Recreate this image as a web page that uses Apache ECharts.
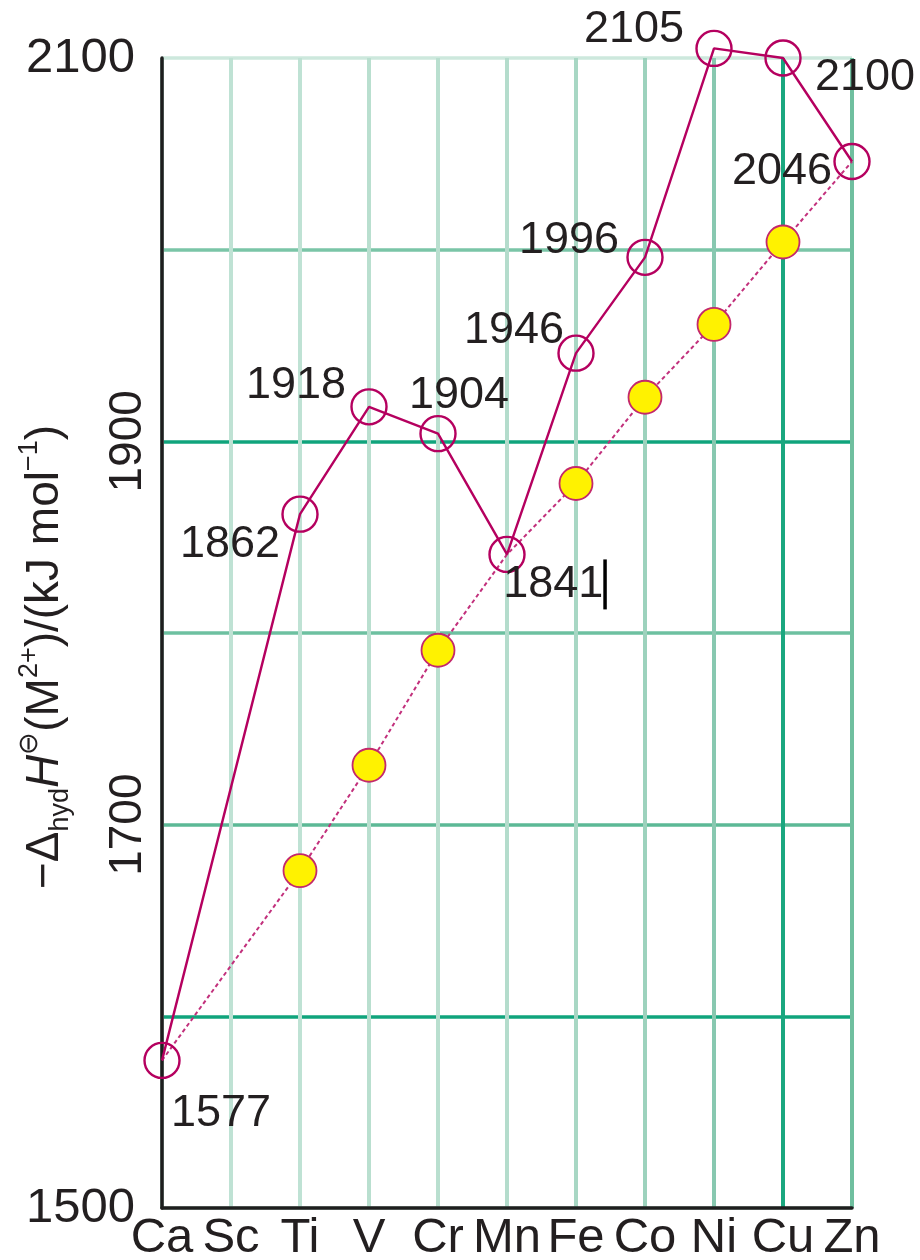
<!DOCTYPE html>
<html>
<head>
<meta charset="utf-8">
<script src="https://cdn.jsdelivr.net/npm/echarts@6/dist/echarts.min.js"></script>
<style>
html,body{margin:0;padding:0;background:#fff;}
#c{width:920px;height:1260px;}
</style>
</head>
<body>
<div id="c"></div>
<script>
// ---- data ----
const categories = ['Ca','Sc','Ti','V','Cr','Mn','Fe','Co','Ni','Cu','Zn'];
const measured = [1577, null, 1862, 1918, 1904, 1841, 1946, 1996, 2105, 2100, 2046];
const baseline = [1577, null, 1676, 1731, 1791, 1841, 1878, 1923, 1961, 2004, 2046];
const yTicks = [1500, 1600, 1700, 1800, 1900, 2000, 2100];
const yLabelsFlat = [1500, 2100];
const yLabelsRotated = [1700, 1900];

// label placement (px offsets from the marker)
const labelOffsets = [[59,53],null,[-70,30],[-73,-21],[21,-38],[48,30],[-62,-23],[-76,-17],[-80,-19],[82,20],[-70,10]];

const FONT = '"Liberation Sans", Arial, sans-serif';
const TXT = '#231f20';
const MAG = '#b5005f';

const measuredData = measured.map((v, i) => {
  if (v === null) return null;
  const off = labelOffsets[i];
  const text = categories[i] === 'Mn' ? '{t|' + v + '}{bar|}' : '{t|' + v + '}';
  return {
    value: v,
    label: {
      show: true, position: 'inside', offset: off,
      formatter: text
    }
  };
});
const baselineData = baseline.map((v, i) => {
  if (v === null) return null;
  if (v === measured[i]) return { value: v, symbol: 'none' };
  return v;
});

const chart = echarts.init(document.getElementById('c'), null, {renderer: 'canvas'});
chart.setOption({
  animation: false,
  backgroundColor: '#fff',
  grid: { left: 162, right: 68, top: 58, bottom: 52, containLabel: false, outerBoundsMode: 'none' },
  xAxis: {
    type: 'category',
    data: categories,
    boundaryGap: false,
    axisLine: { show: true, lineStyle: { color: '#1e1e1e', width: 3.5 } },
    axisTick: { show: false },
    axisLabel: { color: TXT, fontSize: 49, fontFamily: FONT, margin: 6, interval: 0 },
    splitLine: {
      show: true, interval: 0,
      lineStyle: {
        width: 4,
        color: ['#b6dccd','#bfe2d4','#bfe2d4','#b9dfcf','#b9dfcf','#b4dccc','#a8d7c4','#9dd2bd','#88c8b0','#1aa77f','#6fbf9f']
      }
    }
  },
  yAxis: [{
    type: 'value', min: 1500, max: 2100, interval: 100,
    axisLine: { show: true, lineStyle: { color: '#1e1e1e', width: 3.5 } },
    axisTick: { show: false },
    axisLabel: {
      color: TXT, fontSize: 49, fontFamily: FONT, margin: 27,
      formatter: v => yLabelsFlat.indexOf(v) >= 0 ? String(v) : ''
    },
    splitLine: {
      show: true,
      lineStyle: {
        width: 3.5,
        color: ['#c8e6da','#10a47c','#5cb996','#6dc0a0','#10a47c','#7ac5a7','#cde8dd']
      }
    },
    name: '−Δ{sub|hyd}{i|H}{sup|⊖}(M{sup|2+})/(kJ mol{sup|−1})',
    nameLocation: 'middle',
    nameRotate: 90,
    nameGap: 88,
    nameMoveOverlap: false,
    nameTextStyle: {
      color: TXT, fontSize: 46, fontFamily: FONT, lineHeight: 58,
      padding: [0, 0, 0, -48],
      rich: {
        sub: { fontSize: 27, fontFamily: FONT, color: TXT, verticalAlign: 'bottom' },
        sup: { fontSize: 27, fontFamily: FONT, color: TXT, verticalAlign: 'top' },
        i: { fontSize: 46, fontFamily: FONT, color: TXT, fontStyle: 'italic' }
      }
    }
  }, {
    type: 'value', min: 1500, max: 2100, interval: 100, position: 'left',
    axisLine: { show: false }, axisTick: { show: false }, splitLine: { show: false },
    axisLabel: {
      color: TXT, fontSize: 46, fontFamily: FONT, margin: 11, rotate: 90,
      formatter: v => yLabelsRotated.indexOf(v) >= 0 ? String(v) : ''
    }
  }],
  series: [{
    type: 'line',
    data: baselineData,
    connectNulls: true,
    clip: false,
    z: 2,
    symbol: 'circle',
    symbolSize: 33,
    lineStyle: { color: '#c2307c', width: 2, type: [4, 3] },
    itemStyle: { color: '#fff200', borderColor: '#c4286c', borderWidth: 1.8 }
  }, {
    type: 'line',
    data: measuredData,
    connectNulls: true,
    clip: false,
    z: 3,
    symbol: 'circle',
    symbolSize: 35,
    lineStyle: { color: MAG, width: 2.4 },
    itemStyle: { color: 'rgba(255,255,255,0)', borderColor: MAG, borderWidth: 2.4 },
    label: {
      show: true,
      rich: {
        t: { fontSize: 45, fontFamily: FONT, color: TXT },
        bar: { width: 3.5, height: 50, backgroundColor: '#000', align: 'left' }
      }
    }
  }]
});
</script>
</body>
</html>
